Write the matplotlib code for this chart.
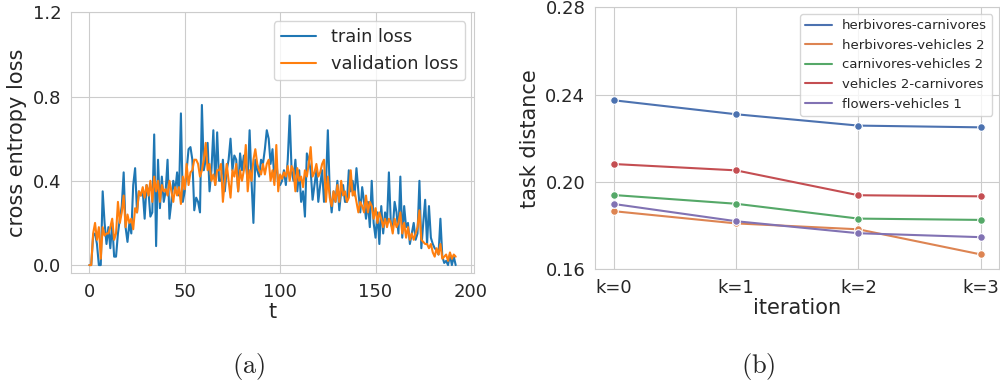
import numpy as np
import matplotlib
matplotlib.use("Agg")
import matplotlib.pyplot as plt
import seaborn as sns

# (a) loss curves
train_loss = [
    0.00, 0.00, 0.14, 0.15, 0.10, 0.00, 0.00, 0.35, 0.20, 0.10,
    0.18, 0.08, 0.20, 0.04, 0.04, 0.15, 0.22, 0.28, 0.44, 0.18,
    0.11, 0.20, 0.15, 0.38, 0.46, 0.25, 0.35, 0.33, 0.35, 0.22,
    0.38, 0.35, 0.23, 0.25, 0.62, 0.09, 0.50, 0.27, 0.42, 0.30,
    0.35, 0.50, 0.22, 0.30, 0.40, 0.35, 0.44, 0.33, 0.72, 0.30,
    0.35, 0.45, 0.55, 0.56, 0.50, 0.26, 0.32, 0.30, 0.25, 0.76,
    0.45, 0.50, 0.58, 0.35, 0.45, 0.64, 0.38, 0.63, 0.40, 0.40,
    0.50, 0.35, 0.45, 0.50, 0.60, 0.45, 0.52, 0.50, 0.35, 0.53,
    0.45, 0.52, 0.48, 0.40, 0.64, 0.40, 0.20, 0.50, 0.45, 0.42,
    0.50, 0.48, 0.55, 0.64, 0.60, 0.48, 0.55, 0.40, 0.50, 0.38,
    0.38, 0.40, 0.45, 0.38, 0.50, 0.71, 0.45, 0.40, 0.50, 0.35,
    0.45, 0.30, 0.35, 0.23, 0.53, 0.50, 0.45, 0.31, 0.38, 0.45,
    0.30, 0.38, 0.45, 0.30, 0.38, 0.64, 0.35, 0.25, 0.35, 0.30,
    0.40, 0.26, 0.35, 0.38, 0.30, 0.30, 0.45, 0.35, 0.40, 0.33,
    0.46, 0.35, 0.25, 0.37, 0.30, 0.22, 0.30, 0.18, 0.40, 0.20,
    0.13, 0.25, 0.10, 0.28, 0.15, 0.25, 0.20, 0.44, 0.20, 0.17,
    0.30, 0.25, 0.15, 0.42, 0.13, 0.28, 0.18, 0.20, 0.10, 0.15,
    0.20, 0.12, 0.15, 0.40, 0.08, 0.20, 0.31, 0.10, 0.28, 0.13,
    0.10, 0.08, 0.07, 0.05, 0.22, 0.04, 0.01, 0.02, 0.00, 0.05,
    0.00, 0.04, 0.00,
]
val_loss = [
    0.00, 0.00, 0.15, 0.20, 0.12, 0.18, 0.03, 0.18, 0.14, 0.15,
    0.15, 0.18, 0.22, 0.12, 0.15, 0.30, 0.20, 0.25, 0.33, 0.18,
    0.24, 0.20, 0.22, 0.17, 0.27, 0.25, 0.35, 0.33, 0.37, 0.32,
    0.38, 0.33, 0.40, 0.30, 0.42, 0.35, 0.40, 0.30, 0.38, 0.35,
    0.36, 0.33, 0.40, 0.35, 0.30, 0.37, 0.33, 0.37, 0.29, 0.42,
    0.36, 0.48, 0.38, 0.44, 0.45, 0.50, 0.50, 0.48, 0.42, 0.45,
    0.50, 0.58, 0.45, 0.48, 0.40, 0.43, 0.38, 0.45, 0.45, 0.48,
    0.30, 0.40, 0.48, 0.40, 0.32, 0.45, 0.42, 0.48, 0.35, 0.45,
    0.40, 0.45, 0.57, 0.35, 0.45, 0.40, 0.50, 0.55, 0.48, 0.45,
    0.43, 0.48, 0.43, 0.48, 0.50, 0.40, 0.45, 0.38, 0.57, 0.35,
    0.43, 0.41, 0.44, 0.42, 0.47, 0.40, 0.47, 0.45, 0.35, 0.46,
    0.40, 0.42, 0.37, 0.45, 0.42, 0.48, 0.56, 0.42, 0.44, 0.48,
    0.42, 0.44, 0.48, 0.50, 0.30, 0.42, 0.32, 0.28, 0.35, 0.30,
    0.38, 0.30, 0.40, 0.33, 0.35, 0.30, 0.32, 0.45, 0.33, 0.35,
    0.30, 0.25, 0.30, 0.28, 0.25, 0.33, 0.25, 0.30, 0.28, 0.22,
    0.27, 0.20, 0.25, 0.22, 0.18, 0.22, 0.18, 0.22, 0.20, 0.15,
    0.22, 0.18, 0.20, 0.25, 0.15, 0.20, 0.13, 0.18, 0.12, 0.15,
    0.12, 0.15, 0.18, 0.26, 0.12, 0.11, 0.10, 0.10, 0.08, 0.10,
    0.06, 0.04, 0.08, 0.05, 0.10, 0.03, 0.04, 0.05, 0.02, 0.06,
    0.03, 0.05, 0.04,
]

# (b) task distance per iteration
iterations = ["k=0", "k=1", "k=2", "k=3"]
pair_names = ["herbivores-carnivores", "herbivores-vehicles 2",
              "carnivores-vehicles 2", "vehicles 2-carnivores",
              "flowers-vehicles 1"]
herb_carn = [0.2374, 0.2310, 0.2258, 0.2250]
herb_veh2 = [0.1866, 0.1810, 0.1783, 0.1668]
carn_veh2 = [0.1940, 0.1900, 0.1832, 0.1826]
veh2_carn = [0.2082, 0.2053, 0.1939, 0.1934]
flow_veh1 = [0.1899, 0.1820, 0.1765, 0.1747]

sns.set_style("whitegrid")
plt.rcParams['font.family'] = ['DejaVu Sans']
plt.rcParams['mathtext.fontset'] = 'cm'

fig = plt.figure(figsize=(10, 3.83), dpi=100)

# left panel
ax1 = fig.add_axes([0.071, 0.287, 0.403, 0.681])
t = np.arange(len(train_loss))
ax1.plot(t, train_loss, color='#1f77b4', lw=1.5, label='train loss')
ax1.plot(t, val_loss, color='#ff7f0e', lw=1.5, label='validation loss')
ax1.set_ylim(top=1.2)
ax1.set_yticks([0.0, 0.4, 0.8, 1.2])
ax1.set_xticks([0, 50, 100, 150, 200])
ax1.tick_params(labelsize=13)
ax1.set_xlabel('t', fontsize=15, labelpad=1)
ax1.set_ylabel('cross entropy loss', fontsize=15)
ax1.legend(loc='upper right', fontsize=12.8)

# right panel
ax2 = fig.add_axes([0.595, 0.297, 0.404, 0.684])
x = np.arange(len(iterations))
colors = sns.color_palette("deep")
series = [herb_carn, herb_veh2, carn_veh2, veh2_carn, flow_veh1]
for i, (name, vals) in enumerate(zip(pair_names, series)):
    ax2.plot(x, vals, color=colors[i], lw=1.5, label=name)
    ax2.plot(x, vals, color=colors[i], lw=0, marker='o', ms=5.5,
             markeredgecolor='white', markeredgewidth=0.8)
ax2.set_xticks(x)
ax2.set_xticklabels(iterations)
ax2.set_xlim(-0.153, 3.15)
ax2.set_ylim(0.16, 0.28)
ax2.set_yticks([0.16, 0.20, 0.24, 0.28])
ax2.tick_params(labelsize=13)
ax2.set_xlabel('iteration', fontsize=15, labelpad=1)
ax2.set_ylabel('task distance', fontsize=15)
ax2.legend(loc='upper right', fontsize=9.5)

fig.text(0.249, 0.044, r'$\mathrm{(a)}$', ha='center', va='center', fontsize=19)
fig.text(0.758, 0.044, r'$\mathrm{(b)}$', ha='center', va='center', fontsize=19)

fig.savefig('out.png', dpi=100)
